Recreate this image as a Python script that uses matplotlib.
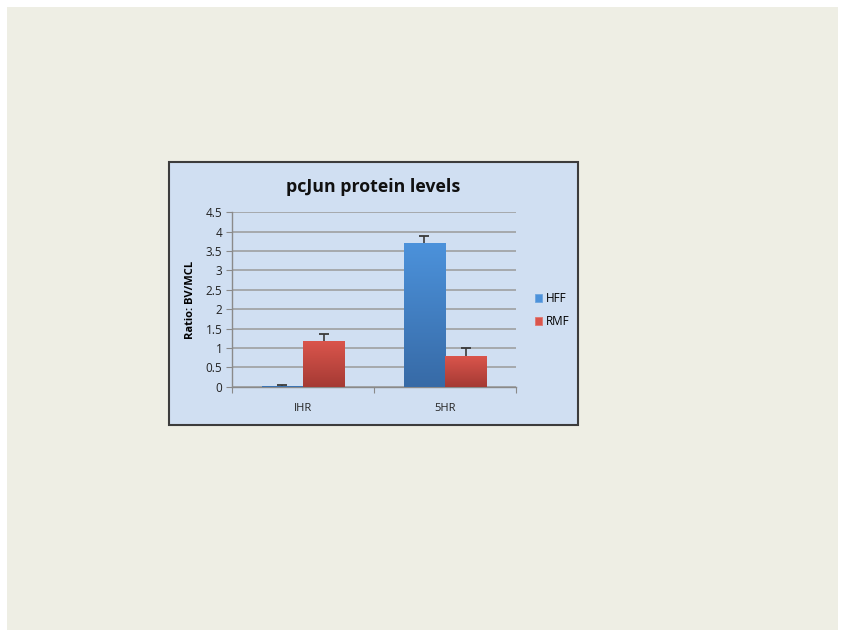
import numpy as np
import matplotlib
matplotlib.use("Agg")
import matplotlib.pyplot as plt
from matplotlib.patches import Rectangle
from matplotlib.colors import LinearSegmentedColormap

categories = ["IHR", "5HR"]
series_names = ["HFF", "RMF"]
hff_values = [0.03, 3.70]
hff_errors = [0.02, 0.19]
rmf_values = [1.17, 0.79]
rmf_errors = [0.20, 0.20]
yticks = [0, 0.5, 1, 1.5, 2, 2.5, 3, 3.5, 4, 4.5]
ytick_labels = ["0", "0.5", "1", "1.5", "2", "2.5", "3", "3.5", "4", "4.5"]

plt.rcParams['font.family'] = ['Open Sans', 'DejaVu Sans']

W, H = 845, 637
fig = plt.figure(figsize=(W / 100, H / 100), dpi=100)
fig.patch.set_facecolor("white")

# page background
fig.add_artist(Rectangle((7 / W, 1 - 630 / H), (838 - 7) / W, (630 - 7) / H,
                         transform=fig.transFigure, facecolor="#EEEEE4",
                         edgecolor="none", zorder=0))
# chart box
fig.add_artist(Rectangle((169 / W, 1 - 425 / H), (578 - 169) / W, (425 - 162) / H,
                         transform=fig.transFigure, facecolor="#D0DFF2",
                         edgecolor="#3C3C3C", lw=1.5, zorder=1))

ax = fig.add_axes([232 / W, 1 - 386.7 / H, 284 / W, 174.4 / H])
ax.set_facecolor("none")
ax.set_zorder(2)

x = np.arange(len(categories))
bw = 0.29
cols = {"HFF": ("#4C92DB", "#376AA6"), "RMF": ("#DA554C", "#A53A34")}
edges = {"HFF": "#6FA6E0", "RMF": "#E07770"}

for name, vals, errs, off in [("HFF", hff_values, hff_errors, -bw / 2),
                              ("RMF", rmf_values, rmf_errors, bw / 2)]:
    vals = np.asarray(vals)
    errs = np.asarray(errs)
    bars = ax.bar(x + off, vals, bw, color=cols[name][0], edgecolor=edges[name],
                  lw=0.6, label=name, zorder=3)
    # upper-only error bars: stem + top cap
    ax.errorbar(x + off, vals, yerr=[np.zeros(len(errs)), errs], fmt="none",
                ecolor="#3A3A3A", elinewidth=1.2, capsize=0, zorder=5)
    ax.plot(x + off, vals + errs, ls="none", marker="_", markersize=7,
            markeredgewidth=1.3, color="#3A3A3A", zorder=5)
    cmap = LinearSegmentedColormap.from_list(name, [cols[name][1], cols[name][0]])
    grad = np.linspace(0, 1, 256).reshape(-1, 1)
    for b in bars:
        bx, by = b.get_x(), b.get_y()
        im = ax.imshow(grad, extent=[bx, bx + b.get_width(), by, by + b.get_height()],
                       origin="lower", cmap=cmap, aspect="auto", zorder=3.5)
        im.set_clip_path(b)

ax.set_xlim(-0.5, 1.5)
ax.set_ylim(0, 4.5)
ax.set_yticks(yticks)
ax.set_yticklabels(ytick_labels, fontsize=8.5, color="#222222")
ax.yaxis.grid(True, color="#9A9A9A", lw=1.1, zorder=0)
ax.set_axisbelow(True)

ax.set_xticks([-0.5, 0.5, 1.5])
ax.set_xticklabels([])
ax.set_xticks(x, minor=True)
ax.set_xticklabels(categories, minor=True, fontsize=8, color="#222222")
ax.tick_params(axis="x", which="minor", length=0, pad=12)
ax.tick_params(axis="x", which="major", length=4, color="#8A8A8A", direction="out")
ax.tick_params(axis="y", length=4, color="#8A8A8A", direction="out", pad=3)

for s in ["top", "right"]:
    ax.spines[s].set_visible(False)
for s in ["left", "bottom"]:
    ax.spines[s].set_color("#8A8A8A")
    ax.spines[s].set_linewidth(1.0)

ax.set_ylabel("Ratio: BV/MCL", fontsize=8, fontweight="bold", labelpad=7)

fig.text(373 / W, 1 - 187 / H, "pcJun protein levels", fontsize=12.8,
         fontweight="bold", ha="center", va="center", color="#111111")

leg = ax.legend(loc="center left", bbox_to_anchor=(1.03, 0.44), frameon=False,
                fontsize=8.5, handlelength=0.6, handleheight=0.6, handletextpad=0.3,
                labelspacing=0.85)

fig.savefig("out.png", dpi=100)
